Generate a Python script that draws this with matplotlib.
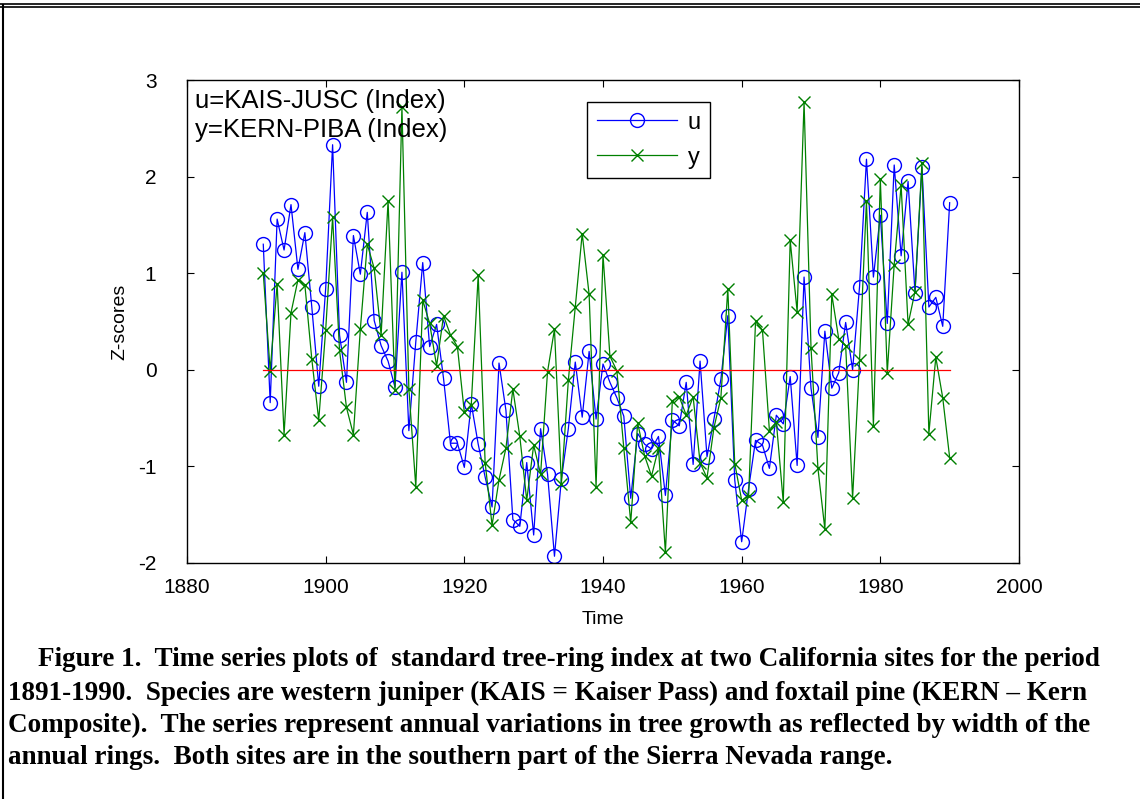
import numpy as np
import matplotlib
matplotlib.use("Agg")
import matplotlib.pyplot as plt

# years covered by both tree-ring series
years = list(range(1891, 1991))

# u = KAIS-JUSC (Index), z-scores
u_kais = [
    1.30, -0.34, 1.56, 1.24, 1.71, 1.04, 1.42, 0.65, -0.17, 0.84,
    2.33, 0.36, -0.13, 1.39, 0.99, 1.63, 0.51, 0.25, 0.09, -0.18,
    1.01, -0.63, 0.29, 1.11, 0.24, 0.47, -0.09, -0.76, -0.76, -1.01,
    -0.35, -0.77, -1.11, -1.42, 0.07, -0.42, -1.55, -1.62, -0.96, -1.71,
    -0.61, -1.08, -1.93, -1.13, -0.61, 0.08, -0.49, 0.19, -0.51, 0.06,
    -0.13, -0.29, -0.48, -1.33, -0.66, -0.77, -0.82, -0.69, -1.30, -0.52,
    -0.58, -0.13, -0.98, 0.09, -0.90, -0.51, -0.10, 0.56, -1.14, -1.78,
    -1.23, -0.73, -0.78, -1.02, -0.47, -0.56, -0.07, -0.99, 0.96, -0.19,
    -0.70, 0.40, -0.19, -0.03, 0.49, 0.00, 0.86, 2.18, 0.96, 1.60,
    0.48, 2.12, 1.18, 1.95, 0.80, 2.10, 0.65, 0.75, 0.45, 1.73,
]

# y = KERN-PIBA (Index)
y_kern = [
    1.00, -0.01, 0.89, -0.67, 0.59, 0.93, 0.88, 0.11, -0.52, 0.41,
    1.58, 0.20, -0.39, -0.67, 0.42, 1.30, 1.05, 0.36, 1.75, -0.21,
    2.72, -0.20, -1.21, 0.72, 0.48, 0.04, 0.56, 0.36, 0.24, -0.44,
    -0.36, 0.98, -0.96, -1.61, -1.14, -0.81, -0.20, -0.69, -1.35, -0.78,
    -1.08, -0.02, 0.42, -1.18, -0.11, 0.65, 1.41, 0.78, -1.21, 1.19,
    0.14, -0.01, -0.81, -1.58, -0.55, -0.89, -1.10, -0.81, -1.89, -0.32,
    -0.28, -0.47, -0.28, -0.96, -1.12, -0.60, -0.29, 0.84, -0.97, -1.35,
    -1.31, 0.50, 0.41, -0.63, -0.54, -1.37, 1.34, 0.60, 2.77, 0.23,
    -1.02, -1.65, 0.78, 0.32, 0.25, -1.33, 0.10, 1.75, -0.58, 1.97,
    -0.03, 1.09, 1.91, 0.47, 0.81, 2.14, -0.66, 0.13, -0.29, -0.91,
]

x_ticks = [1880, 1900, 1920, 1940, 1960, 1980, 2000]
y_ticks = [-2, -1, 0, 1, 2, 3]

caption = [
    "Figure 1.  Time series plots of  standard tree-ring index at two California sites for the period",
    "1891-1990.  Species are western juniper (KAIS = Kaiser Pass) and foxtail pine (KERN \u2013 Kern",
    "Composite).  The series represent annual variations in tree growth as reflected by width of the",
    "annual rings.  Both sites are in the southern part of the Sierra Nevada range.",
]

plt.rcParams['font.family'] = ['Liberation Sans', 'DejaVu Sans']
plt.rcParams['axes.unicode_minus'] = False

W, H = 1140, 799
fig = plt.figure(figsize=(W / 100, H / 100), dpi=100)
ax = fig.add_axes([187 / W, 1 - 563 / H, 832 / W, 483 / H])

ax.plot(years, u_kais, color='blue', lw=0.9, marker='o', ms=10,
        mfc='none', mec='blue', mew=1.0, label='u')
ax.plot(years, y_kern, color='green', lw=0.9, marker='x', ms=8,
        mec='green', mew=1.0, label='y')
ax.plot([years[0], years[-1]], [0, 0], color='red', lw=0.9)

ax.set_xlim(1880, 2000)
ax.set_ylim(-2, 3)
ax.set_xticks(x_ticks)
ax.set_yticks(y_ticks)
ax.tick_params(direction='in', top=True, right=True, length=5,
               labelsize=15)
ax.tick_params(axis='x', pad=11)
ax.tick_params(axis='y', pad=22)
for s in ax.spines.values():
    s.set_linewidth(1.0)

ax.set_xlabel('Time', fontsize=14, va='center')
ax.xaxis.set_label_coords(0.5, (563 - 620) / 483)
ax.set_ylabel('Z-scores', fontsize=14, va='center')
ax.yaxis.set_label_coords((120 - 187) / 832, 0.5)

ax.text(0.01, (563 - 101) / 483, 'u=KAIS-JUSC (Index)', transform=ax.transAxes,
        fontsize=18.5, va='center', ha='left')
ax.text(0.01, (563 - 130) / 483, 'y=KERN-PIBA (Index)', transform=ax.transAxes,
        fontsize=18.5, va='center', ha='left')

leg = ax.legend(loc='upper left', bbox_to_anchor=(0.481, 0.954),
                borderaxespad=0, fontsize=17, handlelength=3.4,
                handletextpad=0.45, labelspacing=0.55, borderpad=0.4,
                numpoints=1, fancybox=False, framealpha=1,
                edgecolor='black')
leg.get_frame().set_linewidth(1.0)

# page frame of the scanned document
fig.add_artist(plt.Line2D([3 / W, 3 / W], [0, 1 - 5 / H],
                          transform=fig.transFigure, color='black', lw=1.5))
fig.add_artist(plt.Line2D([0, 1], [1 - 4 / H, 1 - 4 / H],
                          transform=fig.transFigure, color='black', lw=1.2))
fig.add_artist(plt.Line2D([0, 1], [1 - 7 / H, 1 - 7 / H],
                          transform=fig.transFigure, color='black', lw=1.2))

line_y = [660, 693, 725, 757]
line_x = [38, 8, 8, 8]
for txt, px, py in zip(caption, line_x, line_y):
    fig.text(px / W, 1 - py / H, txt, fontsize=19.5, fontweight='bold',
             family='Liberation Serif', va='center', ha='left')

fig.savefig('out.png', dpi=100)
